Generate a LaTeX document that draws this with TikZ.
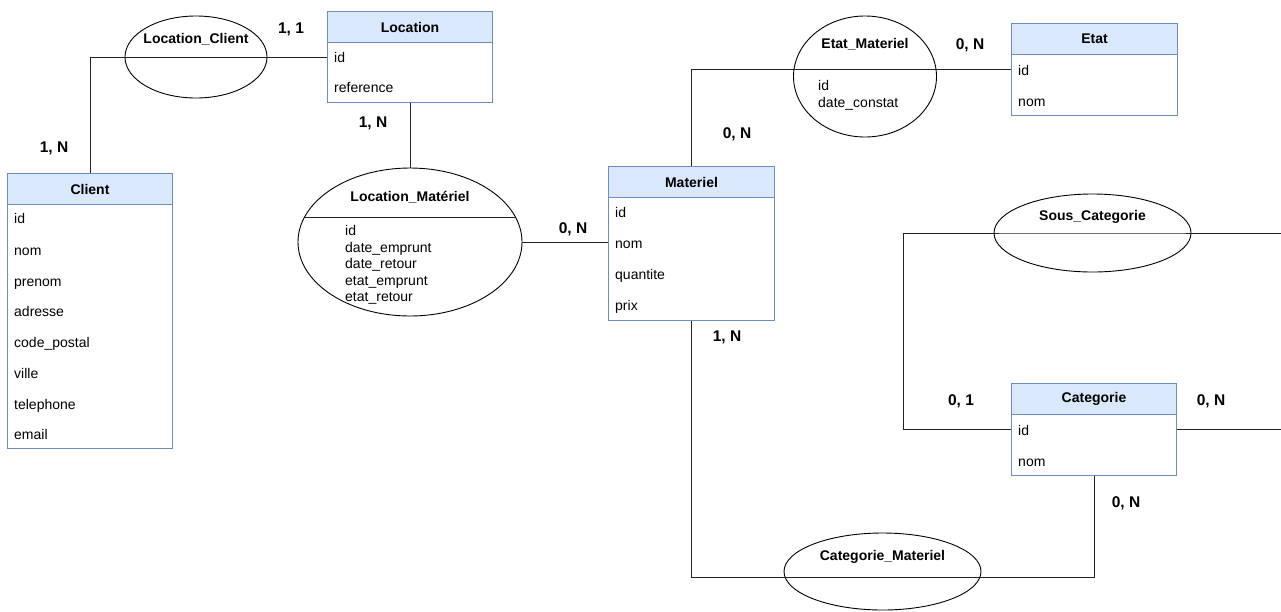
\documentclass[tikz,border=0pt]{standalone}
\usepackage{fontspec}
\setmainfont{Liberation Sans}
\usetikzlibrary{shapes.geometric}
\definecolor{hdrfill}{HTML}{DAE8FC}
\definecolor{entborder}{HTML}{6C8EBF}
\definecolor{linkcol}{HTML}{222222}
\begin{document}
\begin{tikzpicture}[x=1pt,y=-1pt,
  entbox/.style={draw=entborder, line width=1pt, fill=white, inner sep=0pt, anchor=north west},
  hdrbox/.style={draw=entborder, line width=1pt, fill=hdrfill, inner sep=0pt, anchor=north west,
                 minimum height=31pt, font=\bfseries\fontsize{14}{16}\selectfont},
  attr/.style={anchor=west, inner sep=0pt, text height=11pt, text depth=0pt, font=\fontsize{14}{16}\selectfont},
  rel/.style={draw=black, ellipse, line width=0.9pt, inner sep=0pt},
  reltitle/.style={inner sep=0pt, text height=10pt, text depth=3pt, font=\bfseries\fontsize{14}{16}\selectfont},
  card/.style={inner sep=0pt, font=\bfseries\fontsize{15.5}{18}\selectfont},
  link/.style={draw=linkcol, line width=1pt},
]
\useasboundingbox (0,0) rectangle (1281,611);

% ---------- Relations (ellipses) ----------
\node[rel, minimum width=142pt, minimum height=82pt] (lc) at (196,57) {};
\node[reltitle] (lcT) at (196,40) {Location\_Client};

\node[rel, minimum width=224pt, minimum height=148pt] (lm) at (410,242) {};
\node[reltitle] (lmT) at (410,198) {Location\_Matériel};
\draw[link] (304,217) coordinate (lmD1) -- (516,217) coordinate (lmD2);
\node[attr] (lm1) at (345,230) {id};
\node[attr] (lm2) at (345,246.5) {date\_emprunt};
\node[attr] (lm3) at (345,263) {date\_retour};
\node[attr] (lm4) at (345,279.5) {etat\_emprunt};
\node[attr] (lm5) at (345,296) {etat\_retour};

\node[rel, minimum width=143pt, minimum height=121pt] (em) at (865,76.5) {};
\node[reltitle] (emT) at (865,45) {Etat\_Materiel};
\node[attr] (em1) at (818,85) {id};
\node[attr] (em2) at (818,102) {date\_constat};

\node[rel, minimum width=197pt, minimum height=78pt] (sc) at (1092.5,233) {};
\node[reltitle] (scT) at (1092.5,217) {Sous\_Categorie};

\node[rel, minimum width=197pt, minimum height=77pt] (cm) at (882.5,571.5) {};
\node[reltitle] (cmT) at (882.5,557) {Categorie\_Materiel};

% ---------- Entities ----------
% Client
\node[entbox, minimum width=165pt, minimum height=275pt] (client) at (7,173) {};
\node[hdrbox, minimum width=165pt] (clientH) at (7,173) {Client};
\node[attr] (c1) at (14,218) {id};
\node[attr] (c2) at (14,250) {nom};
\node[attr] (c3) at (14,281) {prenom};
\node[attr] (c4) at (14,311) {adresse};
\node[attr] (c5) at (14,342) {code\_postal};
\node[attr] (c6) at (14,373) {ville};
\node[attr] (c7) at (14,404) {telephone};
\node[attr] (c8) at (14,434) {email};

% Location
\node[entbox, minimum width=165pt, minimum height=91pt] (loc) at (327,11) {};
\node[hdrbox, minimum width=165pt] (locH) at (327,11) {Location};
\node[attr] (l1) at (334,57) {id};
\node[attr] (l2) at (334,87) {reference};

% Materiel
\node[entbox, minimum width=166pt, minimum height=154pt] (mat) at (608,166) {};
\node[hdrbox, minimum width=166pt] (matH) at (608,166) {Materiel};
\node[attr] (m1) at (615,212) {id};
\node[attr] (m2) at (615,243) {nom};
\node[attr] (m3) at (615,274) {quantite};
\node[attr] (m4) at (615,305) {prix};

% Etat
\node[entbox, minimum width=166pt, minimum height=92pt] (etat) at (1011,23) {};
\node[hdrbox, minimum width=166pt] (etatH) at (1011,23) {Etat};
\node[attr] (e1) at (1018,70) {id};
\node[attr] (e2) at (1018,101) {nom};

% Categorie
\node[entbox, minimum width=165pt, minimum height=92pt] (cat) at (1011,383) {};
\node[hdrbox, minimum width=165pt] (catH) at (1011,383) {Categorie};
\node[attr] (k1) at (1018,430) {id};
\node[attr] (k2) at (1018,461) {nom};

% ---------- Connectors ----------
\coordinate (locIn) at (327,57);
\draw[link] (client.north) |- (locIn);
\draw[link] (loc.south) -- (lm.north);
\draw[link] (lm.east) -- (mat.west |- lm.east);
\coordinate (emLine) at (865,69.5);
\draw[link] (mat.north) |- (emLine) -- (etat.west |- emLine);
\coordinate (cmLine) at (882,577);
\draw[link] (mat.south) |- (cmLine) -| (cat.south);
\coordinate (scL) at (903,233);
\coordinate (scR) at (1281,233);
\coordinate (catRightEnd) at (1281,429);
\draw[link] (cat.west |- 0,429) -| (scL) -- (sc.center) -- (scR);
\draw[link] (cat.east |- 0,429) -- (catRightEnd);

% ---------- Cardinalities ----------
\node[card] (k11) at (291,29) {1, 1};
\node[card] (k1n) at (54,148) {1, N};
\node[card] (kloc) at (373,123) {1, N};
\node[card] (klm) at (573,229) {0, N};
\node[card] (kmat) at (737,134) {0, N};
\node[card] (ketat) at (970,45) {0, N};
\node[card] (kmatb) at (727,337) {1, N};
\node[card] (kcat) at (1126,503) {0, N};
\node[card] (k01) at (961,401) {0, 1};
\node[card] (k0n) at (1211,401) {0, N};
\end{tikzpicture}
\end{document}
